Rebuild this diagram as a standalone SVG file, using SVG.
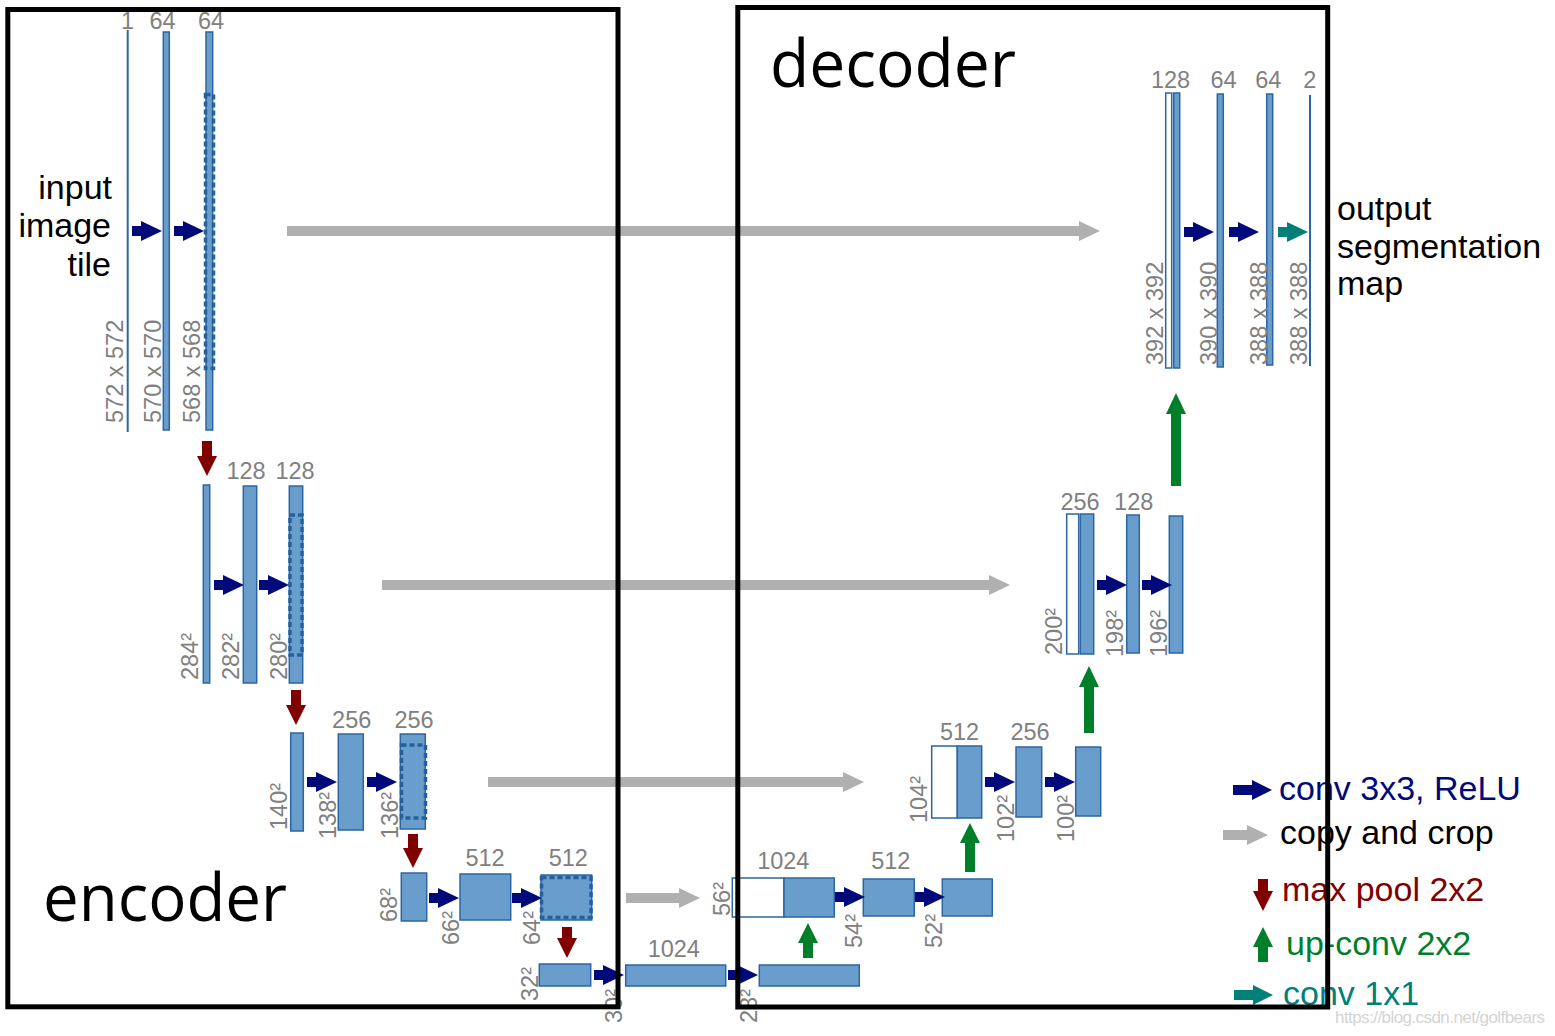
<svg xmlns="http://www.w3.org/2000/svg" xmlns:xlink="http://www.w3.org/1999/xlink" width="1555" height="1036" viewBox="0 0 1555 1036">
<style>
.b{fill:#699dcc;stroke:#2c65a0;stroke-width:1.5}
.w{fill:#fff;stroke:#2c65a0;stroke-width:1.5}
.ln{stroke:#2c65a0;stroke-width:2}
.d{fill:none;stroke:#24609e;stroke-width:3.5;stroke-dasharray:5 3}
.g{font-family:"Liberation Sans",Arial,sans-serif;font-size:23.5px;fill:#808080}
.m{text-anchor:middle}
.t{font-family:"Liberation Sans",Arial,sans-serif;font-size:34px;fill:#000}
.big{font-family:"Open Sans","DejaVu Sans",sans-serif;font-size:66px;fill:#000}
.conv{fill:#00097a}
.copy{fill:#b0b0b0}
.pool{fill:#800000}
.up{fill:#007f2a}
.one{fill:#008078}
.box{fill:none;stroke:#000;stroke-width:5}
</style>
<defs>
<path id="ca" d="M0,-5 H9 V-10 L30,0 L9,10 V5 H0 Z"/>
</defs>
<rect width="1555" height="1036" fill="#fff"/>

<text class="t" x="112" y="199" text-anchor="end">input</text>
<text class="t" x="111" y="237" text-anchor="end">image</text>
<text class="t" x="111" y="276" text-anchor="end">tile</text>
<text class="t" x="1337" y="220">output</text>
<text class="t" x="1337" y="258">segmentation</text>
<text class="t" x="1337" y="295">map</text>
<text class="big" x="770" y="87" textLength="246" lengthAdjust="spacingAndGlyphs">decoder</text>
<text class="big" x="43" y="921" textLength="244" lengthAdjust="spacingAndGlyphs">encoder</text>

<g id="enc1">
<line class="ln" x1="127.7" y1="30" x2="127.7" y2="432"/>
<rect class="b" x="163.3" y="32" width="6" height="398"/>
<rect class="b" x="206" y="32" width="6.7" height="398"/>
<rect class="d" x="205.5" y="94.5" width="8" height="274"/>
<text class="g m" x="127.5" y="29">1</text>
<text class="g m" x="162.5" y="29">64</text>
<text class="g m" x="211" y="29">64</text>
<text class="g" transform="translate(123,423) rotate(-90)">572 x 572</text>
<text class="g" transform="translate(161,423) rotate(-90)">570 x 570</text>
<text class="g" transform="translate(200,423) rotate(-90)">568 x 568</text>
</g>
<g id="enc2">
<rect class="b" x="203.3" y="485" width="6.4" height="198"/>
<rect class="b" x="243.3" y="486" width="13.4" height="197"/>
<rect class="b" x="289.3" y="486" width="13.4" height="197"/>
<rect class="d" x="290" y="515" width="12" height="140"/>
<text class="g m" x="246" y="479">128</text>
<text class="g m" x="295" y="479">128</text>
<text class="g" transform="translate(198,680) rotate(-90)">284²</text>
<text class="g" transform="translate(239,680) rotate(-90)">282²</text>
<text class="g" transform="translate(287,680) rotate(-90)">280²</text>
</g>
<g id="enc3">
<rect class="b" x="290.7" y="733" width="12.6" height="98"/>
<rect class="b" x="338.3" y="734" width="25" height="96"/>
<rect class="b" x="400.3" y="734" width="25" height="95"/>
<rect class="d" x="401.5" y="745" width="24" height="73"/>
<text class="g m" x="351.7" y="728">256</text>
<text class="g m" x="414" y="728">256</text>
<text class="g" transform="translate(286.5,830) rotate(-90)">140²</text>
<text class="g" transform="translate(336,839) rotate(-90)">138²</text>
<text class="g" transform="translate(398,839) rotate(-90)">136²</text>
</g>
<g id="enc4">
<rect class="b" x="401.3" y="873" width="25.4" height="48"/>
<rect class="b" x="460" y="874" width="50.7" height="46"/>
<rect class="b" x="541" y="875" width="50.7" height="45"/>
<rect class="d" x="541.5" y="877.5" width="49.5" height="40"/>
<text class="g m" x="485" y="866">512</text>
<text class="g m" x="568.3" y="866">512</text>
<text class="g" transform="translate(397,922) rotate(-90)">68²</text>
<text class="g" transform="translate(459,945) rotate(-90)">66²</text>
<text class="g" transform="translate(540,945) rotate(-90)">64²</text>
</g>
<g id="bottleneck">
<rect class="b" x="539.3" y="964" width="51.4" height="22"/>
<rect class="b" x="625.7" y="965" width="100" height="21"/>
<rect class="b" x="759.3" y="965" width="100" height="21"/>
<text class="g m" x="673.8" y="957">1024</text>
<text class="g" transform="translate(537.5,1001) rotate(-90)">32²</text>
<text class="g" transform="translate(621.5,1023) rotate(-90)">30²</text>
<text class="g" transform="translate(756.5,1023) rotate(-90)">28²</text>
</g>
<g id="dec4">
<rect class="w" x="732.3" y="878" width="51.7" height="39"/>
<rect class="b" x="784" y="878" width="50.3" height="39"/>
<rect class="b" x="863.3" y="879" width="51" height="37"/>
<rect class="b" x="942.3" y="879" width="50" height="37"/>
<text class="g m" x="783.3" y="869">1024</text>
<text class="g m" x="890.8" y="869">512</text>
<text class="g" transform="translate(730,916) rotate(-90)">56²</text>
<text class="g" transform="translate(862,948) rotate(-90)">54²</text>
<text class="g" transform="translate(941.5,948) rotate(-90)">52²</text>
</g>
<g id="dec3">
<rect class="w" x="931.7" y="746" width="25.6" height="72"/>
<rect class="b" x="957.3" y="746" width="24.4" height="72"/>
<rect class="b" x="1016" y="747" width="25.7" height="70"/>
<rect class="b" x="1075.7" y="747" width="25" height="69"/>
<text class="g m" x="959.5" y="740">512</text>
<text class="g m" x="1030" y="740">256</text>
<text class="g" transform="translate(927,823) rotate(-90)">104²</text>
<text class="g" transform="translate(1014,842) rotate(-90)">102²</text>
<text class="g" transform="translate(1074,842) rotate(-90)">100²</text>
</g>
<g id="dec2">
<rect class="w" x="1066.7" y="514" width="12" height="140"/>
<rect class="b" x="1080.3" y="514" width="13.4" height="140"/>
<rect class="b" x="1126.7" y="515" width="12.6" height="138"/>
<rect class="b" x="1169.3" y="516" width="13.4" height="137"/>
<text class="g m" x="1080" y="510">256</text>
<text class="g m" x="1133.7" y="510">128</text>
<text class="g" transform="translate(1061.5,655) rotate(-90)">200²</text>
<text class="g" transform="translate(1123,657) rotate(-90)">198²</text>
<text class="g" transform="translate(1167,657) rotate(-90)">196²</text>
</g>
<g id="dec1">
<rect class="w" x="1165.7" y="93" width="6" height="275"/>
<rect class="b" x="1173.7" y="93" width="6" height="275"/>
<rect class="b" x="1217.3" y="94" width="6" height="273"/>
<rect class="b" x="1266.7" y="94" width="6" height="271"/>
<line class="ln" x1="1310" y1="95" x2="1310" y2="366"/>
<text class="g m" x="1170.5" y="88">128</text>
<text class="g m" x="1223.5" y="88">64</text>
<text class="g m" x="1268.3" y="88">64</text>
<text class="g m" x="1309.7" y="88">2</text>
<text class="g" transform="translate(1163,365) rotate(-90)">392 x 392</text>
<text class="g" transform="translate(1217,365) rotate(-90)">390 x 390</text>
<text class="g" transform="translate(1266.5,365) rotate(-90)">388 x 388</text>
<text class="g" transform="translate(1307,365) rotate(-90)">388 x 388</text>
</g>

<g id="connectors">
<g class="copy">
<path d="M287,226 H1079 V221 L1100,231 L1079,241 V236 H287 Z"/>
<path d="M382,580 H989 V575 L1010,585 L989,595 V590 H382 Z"/>
<path d="M488,777 H843 V772 L864,782 L843,792 V787 H488 Z"/>
<path d="M626,893 H679 V888 L700,898 L679,908 V903 H626 Z"/>
</g>
<g class="conv">
<use href="#ca" x="132" y="231"/>
<use href="#ca" x="174" y="231"/>
<use href="#ca" x="214" y="585"/>
<use href="#ca" x="259" y="585"/>
<use href="#ca" x="307" y="782"/>
<use href="#ca" x="367" y="782"/>
<use href="#ca" x="429" y="898"/>
<use href="#ca" x="512" y="898"/>
<use href="#ca" x="594" y="975"/>
<use href="#ca" x="728" y="975"/>
<use href="#ca" x="835" y="897"/>
<use href="#ca" x="915" y="897"/>
<use href="#ca" x="985" y="782"/>
<use href="#ca" x="1045" y="782"/>
<use href="#ca" x="1097" y="585"/>
<use href="#ca" x="1142" y="585"/>
<use href="#ca" x="1184" y="232"/>
<use href="#ca" x="1229" y="232"/>
</g>
<use class="one" href="#ca" x="1278" y="232"/>
<g class="pool">
<path d="M202,441 V456 H197 L207,476 L217,456 H212 V441 Z"/>
<path d="M291,690 V705 H286 L296,725 L306,705 H301 V690 Z"/>
<path d="M408,834 V848 H403 L413,868 L423,848 H418 V834 Z"/>
<path d="M562,927 V938 H557 L567,958 L577,938 H572 V927 Z"/>
</g>
<g class="up">
<path d="M803,958 V943 H798 L808,923 L818,943 H813 V958 Z"/>
<path d="M965,872 V843 H960 L970,823 L980,843 H975 V872 Z"/>
<path d="M1084,733 V687 H1079 L1089,666 L1099,687 H1094 V733 Z"/>
<path d="M1171,486 V414 H1166 L1176,393 L1186,414 H1181 V486 Z"/>
</g>
</g>

<g id="legend">
<path class="conv" d="M1233,785 H1252 V780 L1272,790 L1252,800 V795 H1233 Z"/>
<text class="t" x="1279" y="800" style="fill:#00097a">conv 3x3, ReLU</text>
<path class="copy" d="M1223,830 H1247 V825 L1268,835 L1247,845 V840 H1223 Z"/>
<text class="t" x="1280" y="844">copy and crop</text>
<path class="pool" d="M1258,879 V891 H1253 L1263,911 L1273,891 H1268 V879 Z"/>
<text class="t" x="1282" y="901" style="fill:#800000">max pool 2x2</text>
<path class="up" d="M1258,962 V947 H1253 L1263,927 L1273,947 H1268 V962 Z"/>
<text class="t" x="1286" y="955" style="fill:#007f2a">up-conv 2x2</text>
<path class="one" d="M1234,990 H1253 V985 L1273,995 L1253,1005 V1000 H1234 Z"/>
<text class="t" x="1283" y="1005" style="fill:#008078">conv 1x1</text>
</g>

<g id="boxes">
<rect class="box" x="7.8" y="9.5" width="610.2" height="997.3"/>
<rect class="box" x="737.8" y="7.5" width="589.9" height="999.5"/>
</g>
<text x="1335" y="1023" font-family="Liberation Sans, Arial, sans-serif" font-size="17" fill="#d4d4d4" textLength="210">https://blog.csdn.net/golfbears</text>
</svg>
